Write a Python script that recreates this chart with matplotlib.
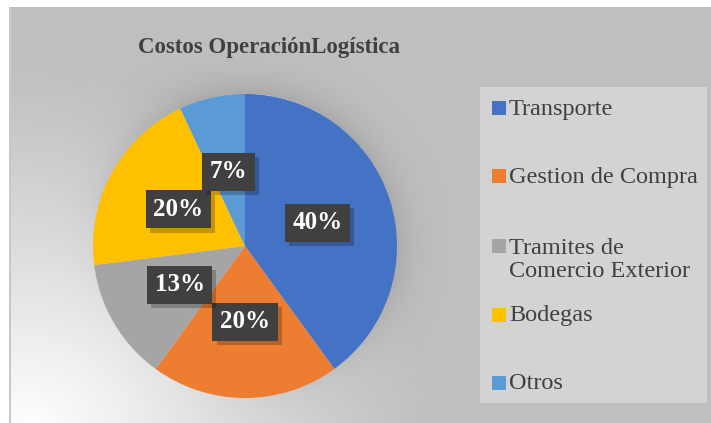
import numpy as np
import matplotlib
matplotlib.use('Agg')
import matplotlib.pyplot as plt
from matplotlib.patches import Rectangle
import matplotlib.patheffects as pe

W, H = 711, 423

categories = ['Transporte', 'Gestion de Compra', 'Tramites de\nComercio Exterior',
              'Bodegas', 'Otros']
shares = [40, 20, 13, 20, 7]
colors = ['#4472C4', '#ED7D31', '#A5A5A5', '#FFC000', '#5B9BD5']
legend_y = [108.5, 176.5, 259, 314.5, 382.5]   # px from top, layout only

plt.rcParams['font.family'] = ['Liberation Serif', 'DejaVu Serif']


def fx(px):
    return px / W


def fy(py):
    return 1 - py / H


fig = plt.figure(figsize=(W / 100, H / 100), dpi=100)

# background: gray with a white glow bottom-left and a soft shadow round the pie
yy, xx = np.mgrid[0:H, 0:W].astype(float)
glow = np.clip(1 - np.hypot((xx - 30) * 0.9, (yy - 430) * 1.0) / 360, 0, 1) ** 1.1
d = np.hypot(xx - 245, yy - 243)
shade = np.where(d > 150, np.exp(-(d - 150) / 18.0), 0) * 22
val = 192 + (255 - 192) * glow - shade * (1 - glow) ** 2
val[:, :10] = 255
val[:7, :] = 255
val[7:, 9:11] = 200
img = np.dstack([val, val, val]) / 255.0
bg = fig.add_axes([0, 0, 1, 1])
bg.imshow(np.clip(img, 0, 1), extent=(0, W, H, 0), aspect='auto', interpolation='bilinear')
bg.set_xlim(0, W); bg.set_ylim(H, 0); bg.axis('off')

# pie
cx, cy, r = 245, 246, 152
ax = fig.add_axes([fx(cx - r), fy(cy + r), 2 * r / W, 2 * r / H])
wedges, texts, autotexts = ax.pie(
    shares, colors=colors, startangle=90, counterclock=False, radius=1,
    autopct='%1.0f%%', pctdistance=0.5,
    textprops=dict(color='white', fontsize=18, fontweight='bold'))
for t in autotexts:
    t.set_bbox(dict(boxstyle='square,pad=0.3', facecolor='#404040', edgecolor='none'))
    t.get_bbox_patch().set_path_effects(
        [pe.SimplePatchShadow(offset=(3, -3), shadow_rgbFace='#000000', alpha=0.22), pe.Normal()])
ax.set_xlim(-1, 1); ax.set_ylim(-1, 1); ax.set_aspect('auto'); ax.axis('off')

# title
fig.text(fx(269), fy(47), 'Costos OperaciónLogística', ha='center', va='center',
         fontsize=16.5, fontweight='bold', color='#404040')

# legend
fig.add_artist(Rectangle((fx(480), fy(403)), 227 / W, 316 / H, transform=fig.transFigure,
                         facecolor='#D3D3D3', edgecolor='none'))
for lab, col, ly in zip(categories, colors, legend_y):
    sy = ly if '\n' not in lab else 245.5
    fig.add_artist(Rectangle((fx(492), fy(sy + 7)), 14 / W, 14 / H, transform=fig.transFigure,
                             facecolor=col, edgecolor='none'))
    fig.text(fx(509), fy(ly + 1), lab, ha='left', va='center', fontsize=17.5,
             color='#404040', linespacing=1.1)

fig.savefig('out.png', dpi=100)
